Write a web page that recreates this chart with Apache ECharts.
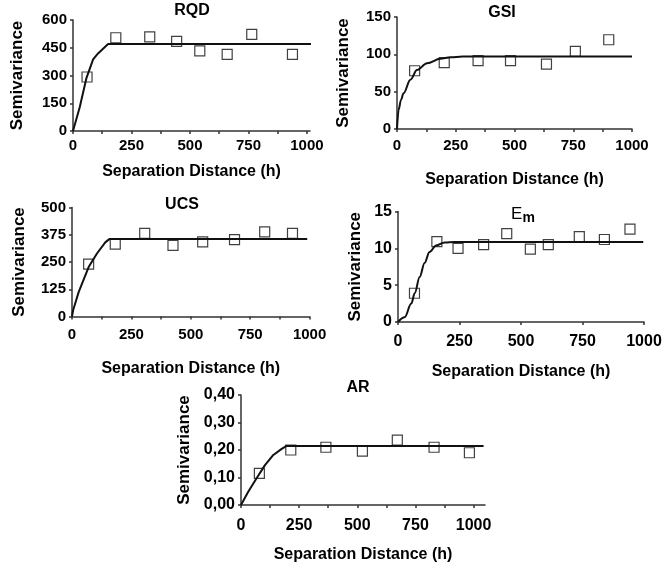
<!DOCTYPE html>
<html>
<head>
<meta charset="utf-8">
<script src="https://cdn.jsdelivr.net/npm/echarts@6/dist/echarts.min.js"></script>
<style>
html,body{margin:0;padding:0;background:#fff;}
#chart{width:663px;height:574px;}
</style>
</head>
<body>
<div id="chart"></div>
<script>
// ---- data ----
const xTicks125 = [0,125,250,375,500,625,750,875,1000];
const xTicks250 = [0,250,500,750,1000];
const xLabels = [0,250,500,750,1000];

// RQD
const rqdH = [60,183,328,443,542,659,764,938];
const rqdG = [292,504,509,484,433,414,522,414];
const rqdModelH = [0,29,57,86,107,150,1034];
const rqdModelG = [0,130,284,387,419,470,470];

// GSI
const gsiH = [75,201,345,483,636,759,901];
const gsiG = [78,89,91.5,91.5,87,104,119.5];
const gsiModelH = [0,7,17,28,57,85,128,184,227,280,1000];
const gsiModelG = [0,26,39,48,66,79,88,94,96,97,97];

// UCS
const ucsH = [70,182,306,425,550,684,811,928];
const ucsG = [240,332,381,326,342,353,388,381];
const ucsModelH = [0,5,28,70,105,140,157,990];
const ucsModelG = [0,30,112,227,289,340,355,355];

// Em
const emH = [67,158,244,348,442,538,611,737,839,943];
const emG = [3.9,10.9,10.0,10.5,12.0,9.9,10.5,11.6,11.2,12.6];
const emModelH = [0,27,54,68,88,108,128,155,190,230,997];
const emModelG = [0,0.64,2.5,3.9,6.1,8.0,9.5,10.4,10.8,10.85,10.85];

// AR
const arH = [79,214,365,522,672,830,982];
const arG = [0.115,0.200,0.210,0.196,0.236,0.210,0.190];
const arModelH = [0,31,67,103,139,175,196,1043];
const arModelG = [0,0.048,0.097,0.145,0.182,0.204,0.215,0.215];

const titles = ['RQD','GSI','UCS','{e|E}{m|m}','AR'];
const xName = 'Separation Distance (h)';
const yName = 'Semivariance';

// ---- layout / style ----
const FONT = "'Liberation Sans', Arial, sans-serif";
const zip = (a,b) => a.map((v,i)=>[v,b[i]]);

const panels = [
  {grid:{left:73,top:20,width:237,height:111}, xmax:1013, xt:xTicks125, y:[0,600,150], pts:zip(rqdH,rqdG), model:zip(rqdModelH,rqdModelG),
   title:{x:192,y:11}, fs:15, yGap:47, xGap:33, xMargin:7, smooth:false},
  {grid:{left:397,top:17,width:235,height:112}, xmax:1000, xt:xTicks125, y:[0,150,50], pts:zip(gsiH,gsiG), model:zip(gsiModelH,gsiModelG),
   title:{x:502,y:13}, fs:15, yGap:45, xGap:43, xMargin:9, smooth:true},
  {grid:{left:72,top:207.5,width:237.6,height:109}, xmax:1000, xt:xTicks125, y:[0,500,125], pts:zip(ucsH,ucsG), model:zip(ucsModelH,ucsModelG),
   title:{x:182,y:205}, fs:15, yGap:44, xGap:44, xMargin:11, smooth:false},
  {grid:{left:398,top:211.5,width:246,height:110.5}, xmax:1000, xt:xTicks250, y:[0,15,5], pts:zip(emH,emG), model:zip(emModelH,emModelG),
   title:{x:523,y:214}, fs:16, yGap:34, xGap:42, xMargin:12, smooth:true},
  {grid:{left:241,top:395,width:244,height:110}, xmax:1049, xt:xTicks125, y:[0,0.4,0.1], pts:zip(arH,arG), model:zip(arModelH,arModelG),
   title:{x:358,y:388}, fs:16, yGap:48, xGap:42, xMargin:13, smooth:false, comma:true}
];

const axisLineStyle = {color:'#333', width:1.5};

const option = {
  backgroundColor:'#fff',
  animation:false,
  title: panels.map((p,i)=>({
    text: titles[i], left:p.title.x, top:p.title.y, textAlign:'center', textVerticalAlign:'middle', padding:0,
    textStyle:{fontFamily:FONT, fontWeight:'bold', fontSize:16, color:'#000',
      rich:{ e:{fontFamily:FONT, fontSize:17, fontWeight:'normal', color:'#000'},
             m:{fontFamily:FONT, fontSize:14, fontWeight:'bold', color:'#000', padding:[8,0,0,0]} }}
  })),
  grid: panels.map(p=>Object.assign({containLabel:false, outerBoundsMode:'none'}, p.grid)),
  xAxis: panels.map((p,i)=>({
    type:'value', gridIndex:i, min:0, max:p.xmax,
    name:xName, nameLocation:'middle', nameGap:p.xGap,
    nameTextStyle:{fontFamily:FONT, fontWeight:'bold', fontSize:16, color:'#000'},
    axisLine:{show:true, onZero:false, lineStyle:axisLineStyle},
    axisTick:{show:true, length:3, customValues:p.xt, lineStyle:axisLineStyle},
    axisLabel:{customValues:xLabels, margin:p.xMargin, fontFamily:FONT, fontWeight:'bold', fontSize:p.fs, color:'#000',
      formatter:(v=>String(Math.round(v)))},
    splitLine:{show:false}
  })),
  yAxis: panels.map((p,i)=>({
    type:'value', gridIndex:i, min:p.y[0], max:p.y[1], interval:p.y[2],
    name:yName, nameLocation:'middle', nameGap:p.yGap, nameRotate:90,
    nameTextStyle:{fontFamily:FONT, fontWeight:'bold', fontSize:17, color:'#000'},
    axisLine:{show:true, onZero:false, lineStyle:axisLineStyle},
    axisTick:{show:true, length:3, lineStyle:axisLineStyle},
    axisLabel:{margin:6, fontFamily:FONT, fontWeight:'bold', fontSize:p.fs, color:'#000',
      formatter: p.comma ? (v=>v.toFixed(2).replace('.',',')) : (v=>String(v))},
    splitLine:{show:false}
  })),
  series: []
};

panels.forEach((p,i)=>{
  option.series.push({
    type:'line', xAxisIndex:i, yAxisIndex:i, data:p.model, showSymbol:false, symbol:'none',
    smooth:p.smooth ? 0.35 : false, smoothMonotone:'x', clip:false,
    lineStyle:{color:'#111', width:2}, z:2
  });
  option.series.push({
    type:'scatter', xAxisIndex:i, yAxisIndex:i, data:p.pts, symbol:'rect', symbolSize:10,
    itemStyle:{color:'rgba(0,0,0,0)', borderColor:'#111', borderWidth:1.2}, z:3
  });
});

const chart = echarts.init(document.getElementById('chart'), null, {renderer:'canvas'});
chart.setOption(option);
</script>
</body>
</html>
